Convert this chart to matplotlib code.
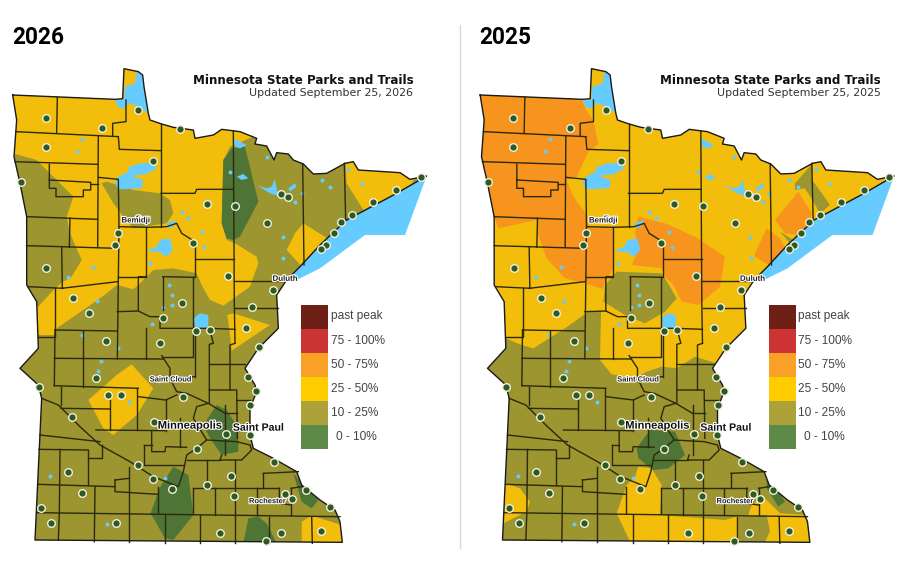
import matplotlib
matplotlib.use("Agg")
import matplotlib.pyplot as plt
from matplotlib.patches import Polygon, Rectangle
import matplotlib.patheffects as pe

YELLOW, ORANGE, OLIVE, GREEN = "#F3BE0B", "#F7941E", "#9C9530", "#4E7535"
LAKE = "#66CCFF"
L = 795  # lower half of the map: y = crop y + L

years = ["2026", "2025"]
updated = ["Updated September 25, 2026", "Updated September 25, 2025"]
legend_labels = ["past peak", "75 - 100%", "50 - 75%", "25 - 50%", "10 - 25%", "0 - 10%"]
legend_colors = ["#6E1F16", "#CC3333", "#F9A026", "#FFCC00", "#ADA239", "#5E8A48"]

state = [(38,225),(345,238),(368,236),(372,146),(415,155),(428,165),(432,200),(445,280),(450,300),(485,312),(520,322),
 (580,330),(585,355),(640,345),(665,328),(720,335),(770,355),(765,372),(800,378),(822,420),(830,398),(865,402),(880,420),
 (910,432),(940,462),(980,460),(1035,430),(1060,425),(1075,450),(1200,458),(1230,478),(1280,468),(1190,520),(1100,568),
 (1040,600),(960,675),(900,740),(860,780),(850,L),(830,L+30),(835,L+130),(775,L+190),(735,L+250),(765,L+300),(770,L+320),
 (750,L+370),(750,L+450),(760,L+490),(820,L+520),(890,L+560),(905,L+600),(960,L+645),(1005,L+675),(1020,L+710),(1027,L+772),
 (105,L+765),(125,L+340),(115,L+300),(60,L+250),(115,L+190),(110,L+50),(80,L),(80,590),(60,490),(42,410),(50,300)]
superior = [(1280,468),(1215,645),(1095,645),(960,745),(880,785),(860,780),(900,740),(960,675),(1040,600),(1100,568),(1190,520)]
lakes = [
 [(375,200),(405,190),(410,155),(428,165),(432,200),(445,280),(415,258),(385,250),(375,265),(355,262),(345,240),(372,238)],
 [(345,490),(355,470),(385,455),(385,442),(420,430),(460,430),(470,445),(440,462),(395,468),(430,480),(425,505),(355,508)],
 [(445,690),(470,680),(480,660),(510,655),(518,690),(500,710),(475,695),(450,695)],
 [(770,495),(800,505),(815,500),(825,478),(832,515),(875,525),(855,535),(810,520)],
 [(580,L+100),(600,L+85),(625,L+90),(625,L+125),(590,L+140)],
 [(700,355),(740,375),(720,385),(705,380)],
 [(865,505),(885,490),(890,500),(870,515)],
 [(500,610),(530,600),(520,620),(505,625)],
 [(710,470),(730,462),(745,475),(725,480)],
]
ponds = [(247,357),(232,393),(690,457),(545,575),(565,595),(605,635),(612,680),(848,650),(850,715),(205,770),
 (280,742),(450,730),(508,L),(885,545),(905,520),(965,480),(990,500),(1045,448),(1085,492),(515,L+30),(515,L+60),(490,L+65),
 (290,L+47),(245,L+150),(355,L+190),(303,L+228),(295,L+258),(388,L+350),(495,L+580),(150,L+572),(320,L+717),(455,L+118),(800,410)]
counties = [
 [(172,232),(170,338)],[(48,335),(295,347),(355,350)],[(378,240),(378,305),(338,310),(338,347)],[(355,350),(358,388),(483,392)],
 [(483,312),(483,620)],[(295,347),(293,680)],[(295,472),(355,478),(357,620),(352,L+222)],[(45,425),(293,433)],
 [(148,433),(148,505),(168,505),(168,530),(250,530),(250,510),(272,510),(272,487),(148,480)],[(272,492),(293,492)],
 [(80,590),(293,598)],[(210,595),(208,682)],[(80,677),(350,685)],[(185,680),(187,L+10)],[(357,620),(440,622),(500,620),(530,610),(545,640),(585,665)],
 [(483,520),(585,520),(590,508),(700,508)],[(700,333),(703,L+60),(705,L+175)],[(705,L+525),(705,L+775)],[(437,622),(437,770),(355,770)],[(437,770),(415,770),(415,L+78),(450,L+95),(480,L+95),(480,L+130),(580,L+130)],
 [(585,665),(585,772)],[(585,718),(703,718)],[(488,770),(585,772)],[(488,770),(488,L+75)],[(703,782),(850,782)],[(908,432),(912,735)],[(1033,430),(1037,600)],
 [(85,L+5),(190,L+10)],[(352,785),(185,L+10)],[(165,L+10),(165,L+155),(115,L+155)],[(165,L+135),(350,L+138)],[(165,L+135),(163,L+302)],[(248,L+138),(248,L+305)],
 [(163,L+220),(490,L+222)],[(352,L+80),(415,L+78)],[(437,L+130),(437,L+222)],[(580,772),(580,L+215),(490,L+215)],
 [(485,L+212),(510,L+250),(510,L+280),(530,L+320),(560,L+325),(625,L+355),(675,L+385)],[(510,L+280),(585,L+275)],[(585,L+130),(585,L+275)],
 [(585,L+130),(628,L+130),(640,L+175),(628,L+178),(628,L+355)],[(628,L+130),(705,L+133)],[(705,L+70),(835,L+70)],[(705,L+175),(690,L+180),(690,L+315)],
 [(628,L+237),(735,L+237)],[(628,L+315),(710,L+315),(712,L+460)],[(163,L+302),(415,L+310)],[(183,L+305),(183,L+360)],
 [(125,L+340),(175,L+360),(240,L+425),(300,L+480),(390,L+530),(460,L+575),(535,L+605),(550,L+560),(560,L+510),(590,L+490),(620,L+465),(580,L+400),(590,L+365),(625,L+355)],
 [(183,L+370),(330,L+372)],[(330,L+345),(330,L+435)],[(412,L+310),(412,L+435)],[(288,L+435),(495,L+437)],[(415,L+335),(497,L+345),(530,L+330)],[(497,L+345),(497,L+437)],
 [(455,L+437),(455,L+500),(495,L+500),(497,L+485),(560,L+487)],[(432,L+480),(455,L+480)],[(432,L+480),(432,L+540),(550,L+540)],[(540,L+400),(540,L+485)],
 [(675,L+360),(675,L+510)],[(675,L+385),(712,L+385)],[(712,L+345),(750,L+345)],[(620,L+465),(710,L+470),(750,L+480),(755,L+495),(725,L+525),(660,L+525),(665,L+510)],
 [(560,L+525),(660,L+525)],[(120,L+450),(300,L+470)],[(117,L+493),(265,L+495)],[(180,L+493),(178,L+683),(175,L+765)],[(265,L+495),(265,L+600)],[(265,L+518),(305,L+518),(305,L+480)],
 [(115,L+598),(345,L+605)],[(285,L+605),(283,L+770)],[(388,L+545),(388,L+770)],[(345,L+585),(388,L+580)],[(345,L+585),(345,L+620),(475,L+628)],[(475,L+605),(475,L+685)],
 [(580,L+610),(580,L+685)],[(645,L+610),(645,L+690)],[(580,L+610),(838,L+610)],[(622,L+525),(622,L+610)],[(770,L+610),(770,L+690)],[(790,L+565),(895,L+560)],[(790,L+565),(790,L+610)],
 [(838,L+610),(838,L+655),(873,L+660)],[(873,L+610),(905,L+605)],[(873,L+610),(873,L+690)],[(110,L+683),(1020,L+695)],[(495,L+690),(495,L+775)],[(600,L+690),(600,L+775)],[(808,L+695),(808,L+775)],[(935,L+695),(937,L+775)],
]
parks = [(415,270),(137,294),(306,325),(137,381),(541,327),(460,423),(62,486),(620,551),(706,557),(842,523),(864,532),(802,610),
 (1188,510),(1119,546),(1057,584),(1024,605),(1001,639),(978,675),(964,688),(1264,470),(354,638),(346,674),(580,670),(138,745),(684,769),(415,595),(820,L+15),
 (220,L+38),(266,L+85),(545,L+55),(489,L+99),(756,L+67),(739,L+129),(589,L+139),(629,L+136),(776,L+186),(318,L+167),(480,L+175),(287,L+279),(744,L+277),(769,L+318),(751,L+361),
 (324,L+330),(363,L+331),(116,L+307),(549,L+337),(217,L+397),(461,L+410),(679,L+448),(749,L+449),(590,L+491),(822,L+530),(413,L+541),(458,L+583),(517,L+612),(204,L+561),(693,L+572),
 (621,L+601),(245,L+624),(703,L+634),(855,L+627),(877,L+641),(917,L+616),(124,L+669),(991,L+667),(153,L+715),(349,L+714),(660,L+743),(844,L+744),(963,L+738),(798,L+767)]
cities = [("Bemidji",407,603,5.7,"#222222"),("Duluth",855,778,5.7,"#222222"),("Saint Cloud",512,L+285,5.4,"#222222"),
 ("Minneapolis",570,L+422,8.0,"#111111"),("Saint Paul",775,L+428,7.6,"#111111"),("Rochester",802,L+650,5.4,"#222222")]

zones_2026 = [
 (YELLOW,[(0,0),(0,395),(50,403),(110,420),(220,530),(200,590),(210,640),(245,720),(215,770),(190,785),(165,805),(110,865),(115,945),(165,945),(170,925),(300,835),(352,795),(400,808),(420,790),(460,750),(520,745),(590,760),(605,795),(630,840),(670,857),(750,800),(775,730),(770,710),(705,670),(680,660),(665,610),(670,420),(690,380),(760,350),(760,0)]),
 (OLIVE,[(305,490),(320,485),(400,510),(480,520),(510,540),(520,580),(500,610),(400,625),(370,590),(340,550)]),
 (YELLOW,[(1035,400),(1040,490),(1090,570),(1230,500),(1250,465),(1200,400)]),
 (YELLOW,[(910,610),(990,660),(960,700),(910,745),(860,690),(885,640)]),
 (YELLOW,[(682,L+90),(700,L+85),(810,L+120),(695,L+197),(690,L+150)]),
 (YELLOW,[(265,L+345),(350,L+270),(395,L+238),(460,L+310),(410,L+390),(340,L+450),(310,L+430)]),
 (YELLOW,[(905,L+775),(905,L+710),(935,L+692),(1025,L+720),(1030,L+775)]),
 (GREEN,[(695,385),(735,380),(775,545),(720,650),(700,660),(680,655),(665,610),(670,420)]),
 (GREEN,[(610,L+420),(650,L+360),(680,L+375),(715,L+430),(715,L+500),(665,L+510),(630,L+460)]),
 (GREEN,[(520,L+545),(565,L+570),(580,L+690),(520,L+765),(495,L+760),(452,L+685),(478,L+610)]),
 (GREEN,[(730,L+775),(745,L+700),(775,L+695),(800,L+715),(830,L+775)]),
 (GREEN,[(880,L+565),(905,L+595),(955,L+645),(935,L+670),(905,L+650)]),
]
zones_2025 = [
 (YELLOW,[(0,0),(0,L+155),(110,L+155),(170,L+180),(205,L+190),(300,L+130),(370,L+80),(408,L+80),(405,L+225),(440,L+268),(510,L+280),(545,L+260),(590,L+245),(635,L+250),(690,L+215),(755,L+235),(840,L+150),(1400,L+100),(1400,0)]),
 (OLIVE,[(425,790),(455,755),(590,760),(615,800),(635,L+40),(600,L+80),(540,L+115),(480,L+90),(415,L+50),(420,L)]),
 (ORANGE,[(0,200),(345,225),(362,268),(385,300),(400,372),(370,395),(335,470),(305,480),(325,530),(362,580),(372,622),(445,625),(445,745),(420,785),(415,L+12),(360,L-5),(300,775),(245,715),(218,640),(215,600),(100,625),(88,590),(0,420)]),
 (ORANGE,[(520,590),(600,610),(690,650),(780,710),(765,L+5),(700,L+60),(650,L+50),(625,L),(600,770),(590,745),(500,735),(520,690),(510,640)]),
 (ORANGE,[(930,600),(1000,515),(1040,580),(1030,610),(1000,645),(960,640)]),
 (ORANGE,[(870,700),(905,625),(945,655),(965,690),(920,740),(870,710)]),
 (OLIVE,[(990,490),(1030,445),(1042,430),(1042,480),(1095,555),(1065,580),(1042,540),(1020,505),(990,510)]),
 (OLIVE,[(945,635),(985,660),(975,670)]),
 (YELLOW,[(120,L+595),(165,L+610),(195,L+650),(185,L+680),(115,L+715),(100,L+700)]),
 (YELLOW,[(455,L+685),(485,L+600),(510,L+575),(520,L+545),(560,L+550),(590,L+600),(585,L+690),(715,L+700),(780,L+705),(815,L+695),(850,L+690),(858,L+665),(890,L+630),(945,L+685),(1020,L+690),(1040,L+780),(500,L+780)]),
 (OLIVE,[(820,L+695),(905,L+690),(915,L+740),(900,L+770),(820,L+775)]),
 (GREEN,[(515,L+490),(555,L+435),(630,L+440),(660,L+510),(610,L+550),(565,L+555),(520,L+520)]),
 (GREEN,[(905,L+565),(960,L+650),(940,L+665),(905,L+610)]),
]

fig = plt.figure(figsize=(9.16, 5.65), dpi=100)
ax = fig.add_axes([0, 0, 1, 1])
ax.set_xlim(0, 916); ax.set_ylim(565, 0); ax.axis("off")

def P(pts, x0):
    return [(x0 + x / 3, 20 + y / 3) for x, y in pts]

def draw_map(i, zones, zone_x0, dx):
    outline = Polygon(P(state, dx), closed=True, fc=OLIVE, ec="none", zorder=1)
    ax.add_patch(outline)
    for color, pts in zones:
        p = Polygon(P(pts, zone_x0), closed=True, fc=color, ec="none", zorder=2)
        ax.add_patch(p); p.set_clip_path(outline)
    for pts in lakes:
        ax.add_patch(Polygon(P(pts, dx), closed=True, fc=LAKE, ec="none", zorder=3))
    ax.add_patch(Polygon(P(superior, dx), closed=True, fc=LAKE, ec="none", zorder=3))
    xy = P(ponds, dx)
    ax.scatter([a for a, _ in xy], [b for _, b in xy], s=8, marker="o", color=LAKE, lw=0, zorder=3)
    for line in counties:
        xy = P(line, dx)
        ax.plot([a for a, _ in xy], [b for _, b in xy], color="#2B2A0C", lw=1.0, solid_joinstyle="round", zorder=4)
    xy = P(state + state[:1], dx)
    ax.plot([a for a, _ in xy], [b for _, b in xy], color="#1A1A1A", lw=1.0, zorder=5)
    xy = P(parks, dx)
    ax.scatter([a for a, _ in xy], [b for _, b in xy], s=30, color="#2F5A1E", edgecolors="#EEF0E4", linewidths=1.0, zorder=6)
    for name, x, y, size, col in cities:
        (a, b), = P([(x, y)], dx)
        ax.text(a, b, name, fontsize=size, fontweight="bold", color=col, family="Liberation Sans",
                ha="center", va="center", zorder=7, path_effects=[pe.withStroke(linewidth=1.6, foreground="white")])
    ax.text(dx + 12, 38, years[i], fontsize=16.3, fontweight="bold", family="Roboto", color="black", ha="left", va="center", zorder=8)
    ax.text(dx + 413.3, 80, "Minnesota State Parks and Trails", fontsize=8.55, fontweight="bold", family="DejaVu Sans", color="#111111", ha="right", va="center")
    ax.text(dx + 413.3, 93, updated[i], fontsize=7.9, family="DejaVu Sans", color="#333333", ha="right", va="center")
    top = 304.5
    for k, (lab, c) in enumerate(zip(legend_labels, legend_colors)):
        ax.add_patch(Rectangle((dx + 301, top + k * 24.1), 27.3, 24.1, fc=c, ec="none", zorder=3))
        ax.text(dx + (330.7 if k < 5 else 336.5), top + 12 + k * 24.1, lab, fontsize=8.6, family="Liberation Sans", color="#444444", ha="left", va="center")

draw_map(0, zones_2026, 0, 0)
draw_map(1, zones_2025, 465, 467.5)
ax.plot([460, 460], [25, 548], color="#D9D9D9", lw=1)
fig.savefig("out.png", dpi=100, facecolor="white")
